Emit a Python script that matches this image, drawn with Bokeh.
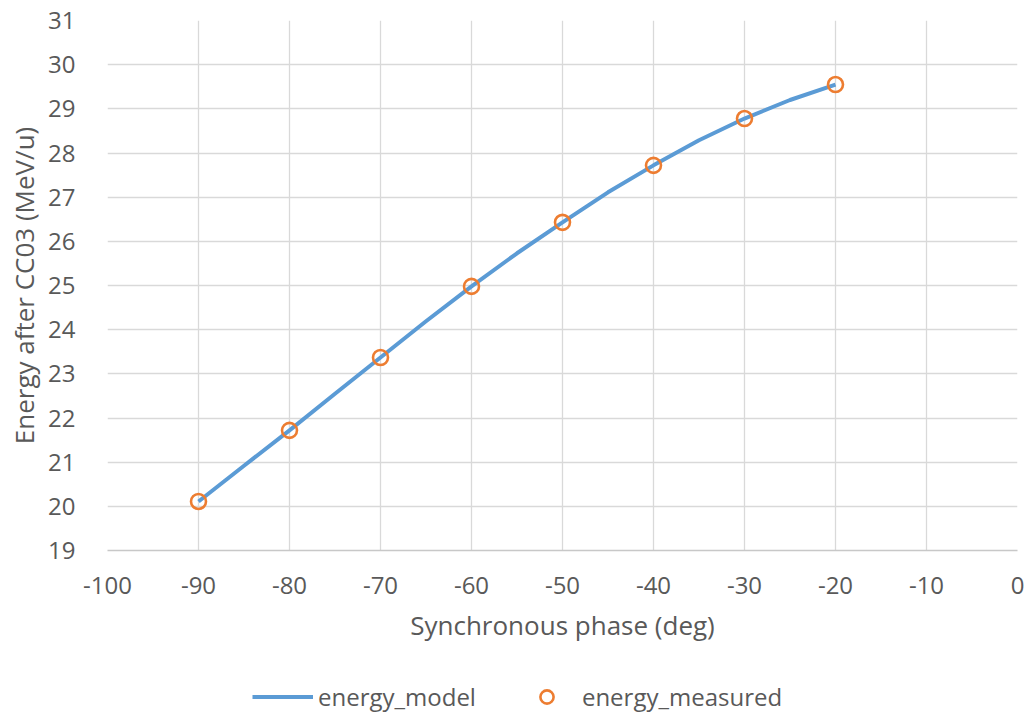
from bokeh.plotting import figure
from bokeh.layouts import column
from bokeh.models import ColumnDataSource, Legend, LegendItem, FixedTicker, Range1d
from bokeh.embed import file_html
from bokeh.resources import INLINE

# ---- data ----
phase_measured = [-90, -80, -70, -60, -50, -40, -30, -20]
energy_measured = [20.11, 21.72, 23.37, 24.98, 26.43, 27.72, 28.78, 29.55]

phase_model = [-90, -85, -80, -75, -70, -65, -60, -55, -50, -45, -40, -35, -30, -25, -20]
energy_model = [20.11, 20.92, 21.72, 22.55, 23.37, 24.19, 24.98, 25.73, 26.43, 27.11,
                27.72, 28.29, 28.78, 29.20, 29.55]

x_ticks = [-100, -90, -80, -70, -60, -50, -40, -30, -20, -10, 0]
y_ticks = [19, 20, 21, 22, 23, 24, 25, 26, 27, 28, 29, 30, 31]

x_title = "Synchronous phase (deg)"
y_title = "Energy after CC03 (MeV/u)"
series_names = ["energy_model", "energy_measured"]

FONT = "Open Sans"
TXT = "#595959"
GRID = "#d9d9d9"
BLUE = "#5b9bd5"
ORANGE = "#ed7d31"

p = figure(width=1026, height=680, output_backend="svg", toolbar_location=None,
           x_range=Range1d(-100, 0), y_range=Range1d(19, 31),
           frame_width=910, frame_height=530,
           min_border_left=107, min_border_right=9, min_border_top=20, min_border_bottom=130)
p.outline_line_color = None
p.background_fill_color = "white"
p.border_fill_color = "white"

p.xaxis.ticker = FixedTicker(ticks=x_ticks)
p.yaxis.ticker = FixedTicker(ticks=y_ticks)
p.xgrid.ticker = FixedTicker(ticks=x_ticks)
p.ygrid.ticker = FixedTicker(ticks=y_ticks)
p.xaxis.major_label_overrides = {t: str(t) for t in x_ticks}
p.yaxis.major_label_overrides = {t: str(t) for t in y_ticks}
for g in (p.xgrid, p.ygrid):
    g.grid_line_color = GRID
    g.grid_line_width = 1.3

for ax in (p.xaxis, p.yaxis):
    ax.major_tick_line_color = None
    ax.minor_tick_line_color = None
    ax.major_label_text_font = FONT
    ax.major_label_text_font_size = "24px"
    ax.major_label_text_color = TXT
    ax.axis_label_text_font = FONT
    ax.axis_label_text_font_size = "26px"
    ax.axis_label_text_font_style = "normal"
    ax.axis_label_text_color = TXT
p.xaxis.axis_line_color = "#c8c8c8"
p.xaxis.axis_line_width = 1.3
p.yaxis.axis_line_color = None
p.xaxis.major_label_standoff = 20
p.yaxis.major_label_standoff = 26
p.xaxis.axis_label = x_title
p.yaxis.axis_label = y_title
p.xaxis.axis_label_standoff = 10
p.yaxis.axis_label_standoff = 3

src_model = ColumnDataSource(dict(x=phase_model, y=energy_model))
src_meas = ColumnDataSource(dict(x=phase_measured, y=energy_measured))

line_style = dict(line_color=BLUE, line_width=4, line_join="round")
mark_style = dict(marker="circle", size=15, line_color=ORANGE, line_width=2.6,
                  fill_color="white", fill_alpha=0.0)

p.line("x", "y", source=src_model, **line_style)
p.scatter("x", "y", source=src_meas, **mark_style)

# ---- legend strip below the chart (its series lie outside this strip's view) ----
lg = figure(width=1026, height=33, output_backend="svg", toolbar_location=None,
            x_range=Range1d(0, 1), y_range=Range1d(0, 1),
            x_axis_type=None, y_axis_type=None,
            min_border_left=0, min_border_right=0, min_border_top=0, min_border_bottom=0)
lg.grid.visible = False
lg.outline_line_color = None
lg.background_fill_color = "white"
lg.border_fill_color = "white"
k_line = lg.line("x", "y", source=src_model, **line_style)
k_mark = lg.scatter("x", "y", source=src_meas, **mark_style)

legend = Legend(items=[LegendItem(label=series_names[0], renderers=[k_line]),
                       LegendItem(label=series_names[1], renderers=[k_mark])],
                orientation="horizontal", location=(145, 0),
                glyph_width=61, glyph_height=33, label_standoff=5, spacing=40,
                padding=0, margin=0, border_line_color=None, background_fill_alpha=0,
                label_text_font=FONT, label_text_font_size="24px", label_text_color=TXT)
lg.add_layout(legend, "center")

layout = column(p, lg, spacing=0)
open("out.html", "w").write(file_html(layout, INLINE))
